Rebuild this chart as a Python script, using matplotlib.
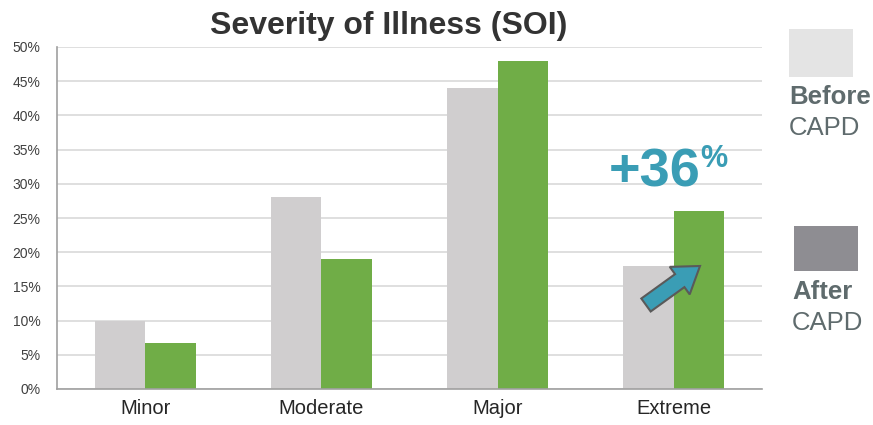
import numpy as np
import matplotlib
matplotlib.use('Agg')
import matplotlib.pyplot as plt
from matplotlib.patches import Polygon, Rectangle

plt.rcParams['font.family'] = ['Liberation Sans', 'DejaVu Sans']

# Severity of illness distribution, before / after CAPD
categories = ['Minor', 'Moderate', 'Major', 'Extreme']
before_capd = [10, 28, 44, 18]
after_capd = [6.7, 19, 48, 26]
yticks = [0, 5, 10, 15, 20, 25, 30, 35, 40, 45, 50]

W, H = 873, 425
fig = plt.figure(figsize=(W / 100, H / 100), dpi=100)
ax = fig.add_axes([57 / W, 1 - 389 / H, 705 / W, 342 / H])


def px(x, y):
    # pixel position (origin top-left) -> figure fraction
    return (x / W, 1 - y / H)


x = np.arange(len(categories))
w = 0.287
ax.bar(x - w / 2, before_capd, width=w, color='#D0CECF', zorder=2)
ax.bar(x + w / 2, after_capd, width=w, color='#70AD47', zorder=2)

ax.set_xlim(-0.5, 3.5)
ax.set_ylim(0, 50)
ax.set_yticks(yticks)
ax.set_yticklabels([f'{t}%' for t in yticks], fontsize=10, color='#404040')
ax.set_xticks(x)
ax.set_xticklabels(categories, fontsize=14.5, color='#262626')
ax.tick_params(axis='both', length=0)
ax.tick_params(axis='y', pad=12)
ax.tick_params(axis='x', pad=7)
ax.grid(axis='y', color='#D9D9D9', linewidth=1.2, zorder=0)
for s in ['top', 'right']:
    ax.spines[s].set_visible(False)
for s in ['left', 'bottom']:
    ax.spines[s].set_color('#A0A0A0')
    ax.spines[s].set_linewidth(1.2)

fig.text(*px(389, 26), 'Severity of Illness (SOI)', ha='center', va='center',
         fontsize=23, fontweight='bold', color='#333333')

# growth arrow on the Extreme group
tail = np.array([646.0, 305.0])
tip = np.array([700.0, 266.0])
u = (tip - tail) / np.linalg.norm(tip - tail)
n = np.array([-u[1], u[0]])
base = tip - u * 25
pts = [tail + n * 8, base + n * 8, base + n * 17, tip,
       base - n * 17, base - n * 8, tail - n * 8]
fig.patches.append(Polygon([px(*p) for p in pts], closed=True,
                           transform=fig.transFigure, facecolor='#3A9DB5',
                           edgecolor='#5A5A5A', linewidth=1.5, zorder=5))
fig.text(*px(609, 187), '+36', ha='left', va='baseline', fontsize=39,
         fontweight='bold', color='#3A9DB5')
fig.text(*px(700, 167), '%', ha='left', va='baseline', fontsize=22,
         fontweight='bold', color='#3A9DB5')

# legend boxes
fig.patches.append(Rectangle(px(789, 77), 64 / W, 48 / H,
                             transform=fig.transFigure, facecolor='#E4E4E4',
                             edgecolor='none'))
fig.patches.append(Rectangle(px(794, 271), 64 / W, 45 / H,
                             transform=fig.transFigure, facecolor='#8E8D92',
                             edgecolor='none'))
fig.text(*px(789, 97), 'Before', ha='left', va='center',
         fontsize=18.5, fontweight='bold', color='#5F6B6D')
fig.text(*px(789, 128), 'CAPD', ha='left', va='center',
         fontsize=18.5, color='#5F6B6D')
fig.text(*px(792, 292), 'After', ha='left', va='center',
         fontsize=18.5, fontweight='bold', color='#5F6B6D')
fig.text(*px(792, 323), 'CAPD', ha='left', va='center',
         fontsize=18.5, color='#5F6B6D')

fig.savefig('out.png', dpi=100)
